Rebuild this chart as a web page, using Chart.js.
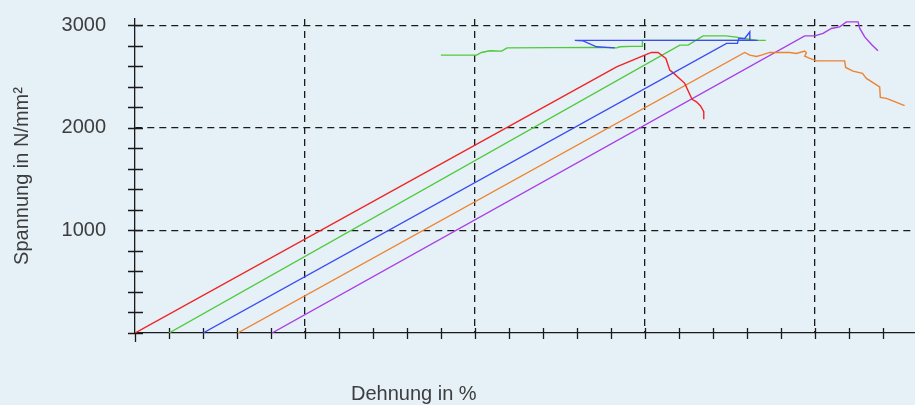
<!DOCTYPE html>
<html>
<head>
<meta charset="utf-8">
<script src="https://cdn.jsdelivr.net/npm/chart.js@4.4.1/dist/chart.umd.min.js"></script>
<style>
  html, body { margin: 0; padding: 0; background: #e5f0f7; }
  canvas { display: block; }
</style>
</head>
<body>
<canvas id="zugChart" width="915" height="405"></canvas>
<script>
// Spannungs-Dehnungs-Kurven, Werte
const redX = [0, 2.834, 2.929, 3.010, 3.039, 3.078, 3.124, 3.147, 3.171, 3.235, 3.278, 3.304, 3.328, 3.347, 3.347];
const redY = [0, 2594, 2659, 2715, 2734, 2734, 2676, 2562, 2530, 2433, 2277, 2253, 2212, 2156, 2082];

const greenX = [0.2, 3.206, 3.255, 3.343, 3.412, 3.476, 3.539, 3.578, 3.657, 3.712, 2.986, 2.986, 2.922, 2.853, 2.834, 2.716, 2.190, 2.157, 2.088, 2.039, 2.010, 1.800];
const greenY = [0, 2805, 2805, 2896, 2896, 2896, 2883, 2870, 2854, 2852, 2852, 2795, 2793, 2789, 2779, 2783, 2779, 2747, 2750, 2734, 2708, 2708];

const blueX = [0.4, 3.481, 3.545, 3.553, 3.588, 3.618, 3.618, 3.665, 2.588, 2.637, 2.716, 2.824];
const blueY = [0, 2822, 2822, 2870, 2870, 2935, 2852, 2852, 2852, 2847, 2789, 2779];

const orangeX = [0.604, 3.588, 3.618, 3.657, 3.686, 3.735, 3.853, 3.892, 3.941, 3.951, 3.941, 3.971, 4.010, 4.176, 4.182, 4.225, 4.281, 4.304, 4.382, 4.386, 4.422, 4.481, 4.529];
const orangeY = [0, 2734, 2708, 2695, 2708, 2734, 2734, 2724, 2747, 2730, 2698, 2676, 2652, 2652, 2588, 2552, 2530, 2481, 2399, 2296, 2287, 2248, 2215];

const purpleX = [0.806, 3.941, 4.000, 4.049, 4.098, 4.147, 4.186, 4.255, 4.265, 4.294, 4.334, 4.372];
const purpleY = [0, 2896, 2896, 2919, 2968, 2983, 3032, 3032, 2968, 2886, 2812, 2750];

const yLabels = [1000, 2000, 3000];   // beschriftete Werte
const xMajor = [1, 2, 3, 4];          // gestrichelte Linien senkrecht

const yTitle = 'Spannung in N/mm²';
const xTitle = 'Dehnung in %';

const textColor = '#3d3d3d';
const lineColor = '#1a1a1a';
const fontFamily = '"Liberation Sans", Arial, Helvetica, sans-serif';

function pts(xs, ys) {
    return xs.map((x, i) => ({ x: x, y: ys[i] }));
}

const near = (v, list) => list.some(m => Math.abs(v - m) < 1e-6);

// kleine Striche quer über die Achsen + x-Achsentitel
const axisMarks = {
    id: 'axisMarks',
    beforeDatasetsDraw(chart) {
        const { ctx, scales: { x, y } } = chart;
        const x0 = x.getPixelForValue(0);
        const y0 = y.getPixelForValue(0);
        ctx.save();
        ctx.strokeStyle = lineColor;
        ctx.lineWidth = 1.3;
        ctx.beginPath();
        y.ticks.forEach(t => {
            const py = Math.round(y.getPixelForValue(t.value)) + 0.5;
            ctx.moveTo(x0 - 7, py);
            ctx.lineTo(x0 + 8, py);
        });
        x.ticks.forEach(t => {
            const px = Math.round(x.getPixelForValue(t.value)) + 0.5;
            if (t.value === 0) {
                ctx.moveTo(px, y0);
                ctx.lineTo(px, y0 + 9);
            } else {
                ctx.moveTo(px, y0 - 5);
                ctx.lineTo(px, y0 + 6);
            }
        });
        ctx.stroke();
        ctx.restore();
    },
    afterDraw(chart) {
        const { ctx, scales: { x } } = chart;
        ctx.save();
        ctx.fillStyle = textColor;
        ctx.font = '20px ' + fontFamily;
        ctx.textAlign = 'left';
        ctx.textBaseline = 'alphabetic';
        ctx.fillText(xTitle, x.getPixelForValue(0) + 216, x.top + 67);
        ctx.restore();
    }
};

const ctx = document.getElementById('zugChart').getContext('2d');

new Chart(ctx, {
    type: 'line',
    data: {
        datasets: [
            { data: pts(redX, redY), borderColor: '#f02424', order: 1 },
            { data: pts(greenX, greenY), borderColor: '#4fca3c', order: 2 },
            { data: pts(blueX, blueY), borderColor: '#3c4cf2', order: 0 },
            { data: pts(orangeX, orangeY), borderColor: '#f0822e', order: 3 },
            { data: pts(purpleX, purpleY), borderColor: '#a83ee6', order: 4 }
        ]
    },
    options: {
        responsive: false,
        animation: false,
        layout: { padding: { top: 19, right: 0, bottom: 0, left: 0 } },
        elements: {
            line: { borderWidth: 1.4, tension: 0, fill: false },
            point: { radius: 0, hoverRadius: 0 }
        },
        plugins: {
            legend: { display: false },
            tooltip: { enabled: false }
        },
        scales: {
            x: {
                type: 'linear',
                min: 0,
                max: 4.59,
                ticks: { stepSize: 0.2, display: false, includeBounds: false, autoSkip: false },
                grid: {
                    color: c => near(c.tick.value, xMajor) ? lineColor : 'transparent',
                    lineWidth: 1.3,
                    drawTicks: false
                },
                border: { display: true, color: lineColor, width: 1.3, dash: [7, 5] },
                afterFit: s => {
                    s.height = 72;
                    s.paddingLeft = 0;
                    s.paddingRight = 0;
                }
            },
            y: {
                min: 0,
                max: 3060,
                ticks: {
                    stepSize: 200,
                    includeBounds: false,
                    autoSkip: false,
                    padding: 29,
                    color: textColor,
                    font: { family: fontFamily, size: 20 },
                    callback: v => near(v, yLabels) ? String(v) : ''
                },
                grid: {
                    color: c => near(c.tick.value, yLabels) ? lineColor : 'transparent',
                    lineWidth: 1.3,
                    drawTicks: false
                },
                border: { display: true, color: lineColor, width: 1.3, dash: [7, 5] },
                title: {
                    display: true,
                    text: yTitle,
                    color: textColor,
                    font: { family: fontFamily, size: 20 },
                    padding: { top: 10, bottom: 0 }
                },
                afterFit: s => {
                    s.width = 135;
                    s.paddingTop = 0;
                    s.paddingBottom = 0;
                }
            }
        }
    },
    plugins: [axisMarks]
});
</script>
</body>
</html>
